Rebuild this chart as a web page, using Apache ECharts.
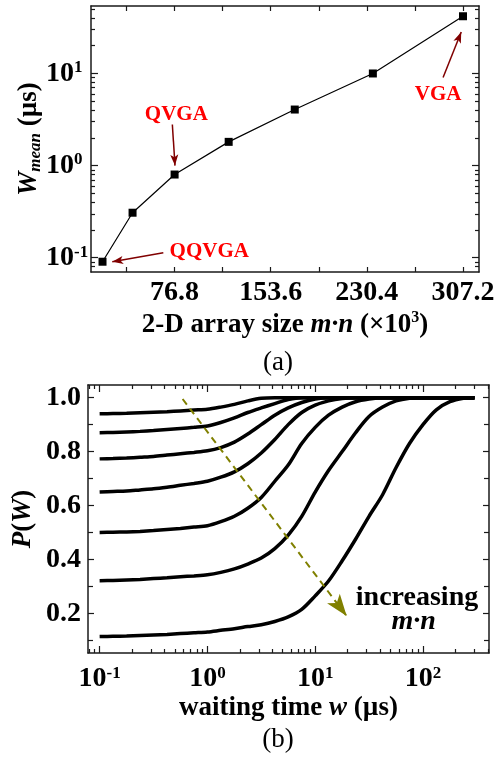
<!DOCTYPE html>
<html>
<head>
<meta charset="utf-8">
<script src="https://cdn.jsdelivr.net/npm/echarts@6/dist/echarts.min.js"></script>
<style>
html,body{margin:0;padding:0;background:#fff;}
#chart{width:495px;height:758px;}
</style>
</head>
<body>
<div id="chart"></div>
<script>
// ---------- Panel (a) data ----------
const arraySizeK = [19.2, 43.2, 76.8, 120, 172.8, 235.2, 307.2];
const waitMean = [0.0905, 0.308, 0.80, 1.81, 4.06, 10.0, 41.8];
const sizeTicks = [38.4, 76.8, 115.2, 153.6, 192.0, 230.4, 268.8, 307.2];
const sizeLabels = [76.8, 153.6, 230.4, 307.2];
const meanMajor = [0.1, 1, 10];
const meanMinor = [0.08, 0.09, 0.2, 0.3, 0.4, 0.5, 0.6, 0.7, 0.8, 0.9, 2, 3, 4, 5, 6, 7, 8, 9, 20, 30, 40, 50];
// annotation anchors (data coordinates)
const annotTop = [
  { text: 'QVGA',  at: [78.2, 3.58],  from: [75.0, 2.79],  to: [77.1, 1.0] },
  { text: 'VGA',   at: [287.3, 5.91], from: [291.3, 9.05], to: [305.8, 28.2] },
  { text: 'QQVGA', at: [104.5, 0.116], from: [67.8, 0.113], to: [27.0, 0.0902] }
];

// ---------- Panel (b) data ----------
const waitTime = [0.1, 0.133, 0.178, 0.237, 0.316, 0.422, 0.562, 0.75, 1, 1.33, 1.78, 2.37, 3.16, 4.22, 5.62, 7.5, 10, 13.3, 17.8, 23.7, 31.6, 42.2, 56.2, 75, 100, 133, 178, 237, 300];
const pCurve1 = [0.94, 0.941, 0.942, 0.944, 0.946, 0.948, 0.951, 0.954, 0.957, 0.965, 0.975, 0.988, 0.998, 1, 1, 1, 1, 1, 1, 1, 1, 1, 1, 1, 1, 1, 1, 1, 1];
const pCurve2 = [0.87, 0.871, 0.873, 0.875, 0.878, 0.882, 0.886, 0.89, 0.895, 0.908, 0.925, 0.945, 0.962, 0.978, 0.993, 1, 1, 1, 1, 1, 1, 1, 1, 1, 1, 1, 1, 1, 1];
const pCurve3 = [0.773, 0.774, 0.776, 0.779, 0.782, 0.787, 0.792, 0.797, 0.803, 0.815, 0.835, 0.865, 0.9, 0.935, 0.962, 0.982, 0.995, 1, 1, 1, 1, 1, 1, 1, 1, 1, 1, 1, 1];
const pCurve4 = [0.65, 0.652, 0.654, 0.658, 0.662, 0.668, 0.675, 0.682, 0.69, 0.705, 0.725, 0.755, 0.795, 0.845, 0.9, 0.945, 0.972, 0.988, 0.997, 1, 1, 1, 1, 1, 1, 1, 1, 1, 1];
const pCurve5 = [0.50, 0.501, 0.502, 0.504, 0.507, 0.511, 0.515, 0.52, 0.525, 0.54, 0.56, 0.59, 0.63, 0.69, 0.75, 0.83, 0.89, 0.935, 0.965, 0.985, 0.995, 1, 1, 1, 1, 1, 1, 1, 1];
const pCurve6 = [0.321, 0.322, 0.324, 0.326, 0.329, 0.332, 0.336, 0.339, 0.343, 0.352, 0.365, 0.383, 0.405, 0.44, 0.49, 0.56, 0.65, 0.73, 0.80, 0.87, 0.93, 0.965, 0.988, 0.998, 1, 1, 1, 1, 1];
const pCurve7 = [0.114, 0.115, 0.116, 0.118, 0.12, 0.122, 0.125, 0.128, 0.131, 0.137, 0.143, 0.151, 0.158, 0.17, 0.187, 0.215, 0.265, 0.32, 0.395, 0.475, 0.56, 0.64, 0.74, 0.83, 0.9, 0.955, 0.985, 0.998, 1];
const pMajor = [0.2, 0.4, 0.6, 0.8, 1.0];
const pMinor = [0.1, 0.3, 0.5, 0.7, 0.9];
const timeMajor = [0.1, 1, 10, 100];
const timeMinor = [0.08, 0.09, 0.2, 0.3, 0.4, 0.5, 0.6, 0.7, 0.8, 0.9, 2, 3, 4, 5, 6, 7, 8, 9, 20, 30, 40, 50, 60, 70, 80, 90, 200, 300, 400];
// annotation anchors for panel (b)
const trendArrow = { from: [0.589, 0.995], to: [19.6, 0.19] };
const trendText1 = { text: 'increasing', at: [88.1, 0.258] };
const trendText2 = { text: 'm·n', at: [81.8, 0.169] };

// ---------- styling ----------
const serif = 'Liberation Serif';
const frame = { color: '#1a1a1a', width: 1.5 };
const tickFont = { fontFamily: serif, fontWeight: 'bold', fontSize: 28, color: '#000' };
const supRich = {
  b: { fontFamily: serif, fontWeight: 'bold', fontSize: 28, color: '#000', lineHeight: 28 },
  s: { fontFamily: serif, fontWeight: 'bold', fontSize: 17, color: '#000', lineHeight: 17, verticalAlign: 'top' }
};
function logLabel(v) {
  const e = Math.round(Math.log10(v));
  return '{b|10}{s|' + e + '}';
}
function fixed1(v) { return Number(v).toFixed(1); }

function tickAxis(o) {
  const ax = {
    type: o.type, gridIndex: o.gridIndex, position: o.position,
    min: o.min, max: o.max,
    axisLine: { show: o.showLine !== false, onZero: false, lineStyle: frame },
    axisTick: { show: true, inside: true, length: o.tickLen, customValues: o.ticks, lineStyle: { color: '#1a1a1a', width: 1.2 } },
    minorTick: { show: false },
    splitLine: { show: false },
    minorSplitLine: { show: false },
    axisLabel: o.labels ? Object.assign({ show: true, customValues: o.labels, formatter: o.formatter, margin: o.margin }, tickFont, o.rich ? { rich: o.rich } : {}, o.labelAlign ? { align: o.labelAlign } : {}) : { show: false },
    nameMoveOverlap: false,
    silent: true
  };
  if (o.type === 'log') ax.logBase = 10;
  if (o.name) {
    ax.name = o.name;
    ax.nameLocation = 'middle';
    ax.nameGap = o.nameGap;
    ax.nameTextStyle = o.nameTextStyle;
  }
  return ax;
}

const nameRichBase = {
  t: { fontFamily: serif, fontWeight: 'bold', fontSize: 27, color: '#000' },
  i: { fontFamily: serif, fontWeight: 'bold', fontStyle: 'italic', fontSize: 27, color: '#000' },
  sub: { fontFamily: serif, fontWeight: 'bold', fontStyle: 'italic', fontSize: 17, color: '#000', verticalAlign: 'bottom' },
  sup: { fontFamily: serif, fontWeight: 'bold', fontSize: 16, color: '#000', verticalAlign: 'top' }
};

const xAxes = [
  tickAxis({ gridIndex: 0, type: 'value', position: 'bottom', min: 10, max: 320, ticks: sizeTicks, tickLen: 5,
    labels: sizeLabels, formatter: fixed1, margin: 7,
    name: '{t|2-D array size }{i|m·n}{t| (×10}{sup|3}{t|)}', nameGap: 38,
    nameTextStyle: { rich: nameRichBase, lineHeight: 30 } }),
  tickAxis({ gridIndex: 0, type: 'value', position: 'top', min: 10, max: 320, ticks: sizeTicks, tickLen: 5 }),
  tickAxis({ gridIndex: 1, type: 'log', position: 'bottom', min: 0.078, max: 410, ticks: timeMajor, tickLen: 7,
    labels: timeMajor, formatter: logLabel, rich: supRich, margin: 12,
    name: '{t|waiting time }{i|w}{t| (µs)}', nameGap: 40,
    nameTextStyle: { rich: nameRichBase, lineHeight: 30 } }),
  tickAxis({ gridIndex: 1, type: 'log', position: 'bottom', min: 0.078, max: 410, ticks: timeMinor, tickLen: 4, showLine: false }),
  tickAxis({ gridIndex: 1, type: 'log', position: 'top', min: 0.078, max: 410, ticks: timeMajor, tickLen: 7 }),
  tickAxis({ gridIndex: 1, type: 'log', position: 'top', min: 0.078, max: 410, ticks: timeMinor, tickLen: 4, showLine: false })
];

const yAxes = [
  tickAxis({ gridIndex: 0, type: 'log', position: 'left', min: 0.07, max: 54, ticks: meanMajor, tickLen: 7,
    labels: meanMajor, formatter: logLabel, rich: supRich, margin: 45, labelAlign: 'left',
    name: '{i|W}{sub|mean}{t| (µs)}', nameGap: 47,
    nameTextStyle: { rich: nameRichBase, lineHeight: 30 } }),
  tickAxis({ gridIndex: 0, type: 'log', position: 'left', min: 0.07, max: 54, ticks: meanMinor, tickLen: 4, showLine: false }),
  tickAxis({ gridIndex: 0, type: 'log', position: 'right', min: 0.07, max: 54, ticks: meanMajor, tickLen: 7 }),
  tickAxis({ gridIndex: 0, type: 'log', position: 'right', min: 0.07, max: 54, ticks: meanMinor, tickLen: 4, showLine: false }),
  tickAxis({ gridIndex: 1, type: 'value', position: 'left', min: 0.053, max: 1.047, ticks: pMajor, tickLen: 6,
    labels: pMajor, formatter: fixed1, margin: 7,
    name: '{i|P}{t|(}{i|W}{t|)}', nameGap: 50,
    nameTextStyle: { rich: nameRichBase, lineHeight: 30 } }),
  tickAxis({ gridIndex: 1, type: 'value', position: 'left', min: 0.053, max: 1.047, ticks: pMinor, tickLen: 5, showLine: false }),
  tickAxis({ gridIndex: 1, type: 'value', position: 'right', min: 0.053, max: 1.047, ticks: pMajor, tickLen: 6 }),
  tickAxis({ gridIndex: 1, type: 'value', position: 'right', min: 0.053, max: 1.047, ticks: pMinor, tickLen: 5, showLine: false })
];

const darkRed = '#800000';
const olive = '#808000';

const topSeries = {
  type: 'line', name: 'Wmean', xAxisIndex: 0, yAxisIndex: 0,
  data: arraySizeK.map((x, i) => [x, waitMean[i]]),
  symbol: 'rect', symbolSize: 8,
  itemStyle: { color: '#000' },
  lineStyle: { color: '#000', width: 1.2 },
  silent: true,
  markLine: {
    silent: true, animation: false,
    symbol: ['none', 'arrow'],
    label: { show: false },
    emphasis: { disabled: true },
    lineStyle: { color: darkRed, width: 1.5, type: 'solid' },
    data: annotTop.map(a => [{ coord: a.from, symbol: 'none' }, { coord: a.to, symbol: 'arrow', symbolSize: [6, 11] }])
  },
  markPoint: {
    silent: true, animation: false,
    symbol: 'rect', symbolSize: 1,
    itemStyle: { color: 'rgba(0,0,0,0)' },
    label: { show: true, position: 'inside', formatter: '{b}', color: '#ff0000', fontFamily: serif, fontWeight: 'bold', fontSize: 21 },
    data: annotTop.map(a => ({ name: a.text, coord: a.at }))
  }
};

const curves = [pCurve1, pCurve2, pCurve3, pCurve4, pCurve5, pCurve6, pCurve7];
const bottomSeries = curves.map((c, k) => {
  const s = {
    type: 'line', name: 'curve' + (k + 1), xAxisIndex: 2, yAxisIndex: 4,
    data: waitTime.map((w, i) => [w, c[i]]),
    showSymbol: false, symbol: 'none',
    smooth: 0.3,
    lineStyle: { color: '#000', width: 3.5 },
    silent: true
  };
  if (k === 0) {
    s.markLine = {
      silent: true, animation: false,
      symbol: ['none', 'arrow'],
      label: { show: false },
      emphasis: { disabled: true },
      lineStyle: { color: olive, width: 2, type: [7, 5] },
      data: [[{ coord: trendArrow.from, symbol: 'none' }, { coord: trendArrow.to, symbol: 'arrow', symbolSize: [12, 22] }]]
    };
    s.markPoint = {
      silent: true, animation: false,
      symbol: 'rect', symbolSize: 1,
      itemStyle: { color: 'rgba(0,0,0,0)' },
      data: [
        { name: trendText1.text, coord: trendText1.at,
          label: { show: true, position: 'inside', formatter: '{b}', color: '#000', fontFamily: serif, fontWeight: 'bold', fontSize: 28 } },
        { name: trendText2.text, coord: trendText2.at,
          label: { show: true, position: 'inside', formatter: '{b}', color: '#000', fontFamily: serif, fontWeight: 'bold', fontStyle: 'italic', fontSize: 28 } }
      ]
    };
  }
  return s;
});

const option = {
  animation: false,
  backgroundColor: '#fff',
  grid: [
    { left: 91, top: 6, width: 388, height: 266, containLabel: false, outerBoundsMode: 'none' },
    { left: 88, top: 385, width: 401, height: 268, containLabel: false, outerBoundsMode: 'none' }
  ],
  xAxis: xAxes,
  yAxis: yAxes,
  series: [topSeries].concat(bottomSeries),
  graphic: [
    { type: 'text', x: 278, y: 363, silent: true,
      style: { text: '(a)', fontFamily: serif, fontSize: 27, fill: '#000', align: 'center', verticalAlign: 'middle' } },
    { type: 'text', x: 278, y: 740, silent: true,
      style: { text: '(b)', fontFamily: serif, fontSize: 27, fill: '#000', align: 'center', verticalAlign: 'middle' } }
  ]
};

const chart = echarts.init(document.getElementById('chart'), null, { renderer: 'canvas' });
chart.setOption(option);
</script>
</body>
</html>
